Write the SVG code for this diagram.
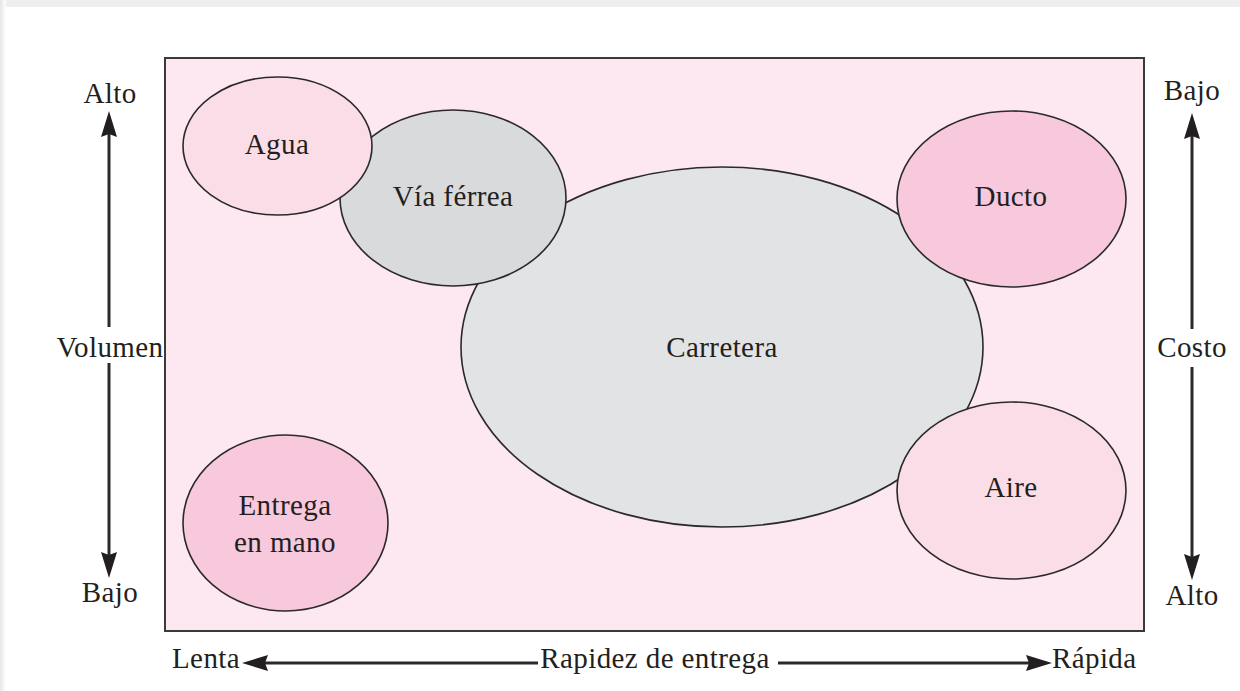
<svg xmlns="http://www.w3.org/2000/svg" width="1240" height="691" viewBox="0 0 1240 691">
<defs>
<style>
.t{font-family:"Liberation Serif","Times New Roman",serif;font-size:29px;letter-spacing:0.4px;fill:#231f20}
.m{text-anchor:middle}
.e{stroke:#2a2a2a;stroke-width:1.6}
.ax{stroke:#2a2a2a;stroke-width:3;fill:none}
.ah{fill:#231f20}
</style>
<linearGradient id="lg" x1="0" y1="0" x2="1" y2="0">
<stop offset="0" stop-color="#e6e6e6"/><stop offset="1" stop-color="#ffffff"/>
</linearGradient>
</defs>
<rect width="1240" height="691" fill="#ffffff"/>
<rect x="0" y="0" width="1240" height="7" fill="#efefef"/>
<rect x="0" y="0" width="6" height="691" fill="url(#lg)"/>
<g id="panel">
<rect x="165" y="58" width="979" height="573" fill="#fde7f0" stroke="#3a3a3a" stroke-width="2"/>
</g>
<g id="carretera">
<ellipse cx="722" cy="347" rx="261" ry="180" fill="#e2e3e5" class="e"/>
<text class="t m" x="722" y="357">Carretera</text>
</g>
<g id="via">
<ellipse cx="453" cy="198" rx="113" ry="88" fill="#d9dadc" class="e"/>
<text class="t m" x="453" y="206">Vía férrea</text>
</g>
<g id="agua">
<ellipse cx="277.5" cy="146" rx="94.5" ry="69" fill="#fbdde8" class="e"/>
<text class="t m" x="277" y="154">Agua</text>
</g>
<g id="ducto">
<ellipse cx="1011.5" cy="199" rx="114.5" ry="88" fill="#f8c8dc" class="e"/>
<text class="t m" x="1011" y="206">Ducto</text>
</g>
<g id="aire">
<ellipse cx="1011.5" cy="490.5" rx="114.5" ry="88.5" fill="#fbdde8" class="e"/>
<text class="t m" x="1011" y="497">Aire</text>
</g>
<g id="entrega">
<ellipse cx="285.5" cy="523" rx="102.5" ry="88" fill="#f8c8dc" class="e"/>
<text class="t m" x="285" y="515">Entrega</text>
<text class="t m" x="285" y="552">en mano</text>
</g>
<g id="labels">
<text class="t m" x="110" y="103">Alto</text>
<text class="t m" x="110" y="357">Volumen</text>
<text class="t m" x="110" y="602">Bajo</text>
<text class="t m" x="1192" y="100">Bajo</text>
<text class="t m" x="1192" y="357">Costo</text>
<text class="t m" x="1192" y="605">Alto</text>
<text class="t" x="172" y="668">Lenta</text>
<text class="t m" x="655" y="668">Rapidez de entrega</text>
<text class="t" x="1052" y="668">Rápida</text>
</g>
<g id="connectors">
<line class="ax" x1="109" y1="327" x2="109" y2="130"/>
<polygon class="ah" points="109,111 117,137 109,134 101,137"/>
<line class="ax" x1="109" y1="363" x2="109" y2="560"/>
<polygon class="ah" points="109,578 117,552 109,555 101,552"/>
<line class="ax" x1="1192" y1="329" x2="1192" y2="132"/>
<polygon class="ah" points="1192,113 1200,139 1192,136 1184,139"/>
<line class="ax" x1="1192" y1="367" x2="1192" y2="562"/>
<polygon class="ah" points="1192,580 1200,554 1192,557 1184,554"/>
<line class="ax" x1="260" y1="663" x2="538" y2="663"/>
<polygon class="ah" points="242,663 268,655 265,663 268,671"/>
<line class="ax" x1="778" y1="663" x2="1034" y2="663"/>
<polygon class="ah" points="1052,663 1026,655 1029,663 1026,671"/>
</g>
</svg>
